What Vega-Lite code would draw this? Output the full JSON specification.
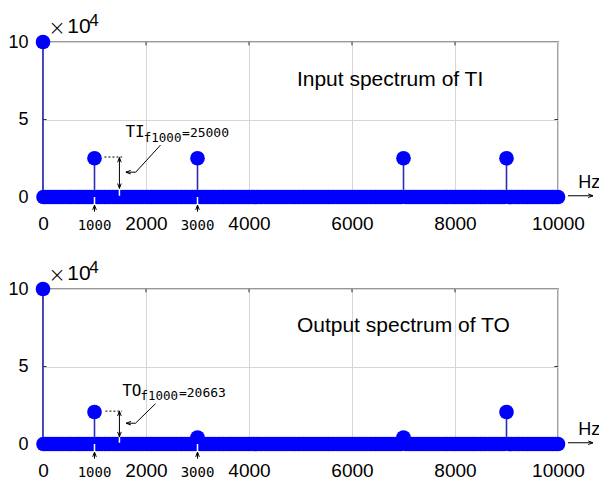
{
"$schema":"https://vega.github.io/schema/vega-lite/v6.json",
"padding":{"left":7,"top":11,"right":5,"bottom":5},
"background":"white",
"spacing":92,
"bounds":"flush",
"datasets":{"spec":[
{"f":0,"TI":100000,"TO":100000},{"f":10,"TI":0,"TO":0},{"f":50,"TI":0,"TO":0},
{"f":100,"TI":0,"TO":0},{"f":150,"TI":0,"TO":0},{"f":200,"TI":0,"TO":0},{"f":250,"TI":0,"TO":0},{"f":300,"TI":0,"TO":0},{"f":350,"TI":0,"TO":0},{"f":400,"TI":0,"TO":0},{"f":450,"TI":0,"TO":0},{"f":500,"TI":0,"TO":0},{"f":550,"TI":0,"TO":0},{"f":600,"TI":0,"TO":0},{"f":650,"TI":0,"TO":0},{"f":700,"TI":0,"TO":0},{"f":750,"TI":0,"TO":0},{"f":800,"TI":0,"TO":0},{"f":850,"TI":0,"TO":0},{"f":900,"TI":0,"TO":0},{"f":950,"TI":0,"TO":0},
{"f":1000,"TI":25000,"TO":20663},
{"f":1050,"TI":0,"TO":0},{"f":1100,"TI":0,"TO":0},{"f":1150,"TI":0,"TO":0},{"f":1200,"TI":0,"TO":0},{"f":1250,"TI":0,"TO":0},{"f":1300,"TI":0,"TO":0},{"f":1350,"TI":0,"TO":0},{"f":1400,"TI":0,"TO":0},{"f":1450,"TI":0,"TO":0},{"f":1500,"TI":0,"TO":0},{"f":1550,"TI":0,"TO":0},{"f":1600,"TI":0,"TO":0},{"f":1650,"TI":0,"TO":0},{"f":1700,"TI":0,"TO":0},{"f":1750,"TI":0,"TO":0},{"f":1800,"TI":0,"TO":0},{"f":1850,"TI":0,"TO":0},{"f":1900,"TI":0,"TO":0},{"f":1950,"TI":0,"TO":0},{"f":2000,"TI":0,"TO":0},
{"f":2050,"TI":0,"TO":0},{"f":2100,"TI":0,"TO":0},{"f":2150,"TI":0,"TO":0},{"f":2200,"TI":0,"TO":0},{"f":2250,"TI":0,"TO":0},{"f":2300,"TI":0,"TO":0},{"f":2350,"TI":0,"TO":0},{"f":2400,"TI":0,"TO":0},{"f":2450,"TI":0,"TO":0},{"f":2500,"TI":0,"TO":0},{"f":2550,"TI":0,"TO":0},{"f":2600,"TI":0,"TO":0},{"f":2650,"TI":0,"TO":0},{"f":2700,"TI":0,"TO":0},{"f":2750,"TI":0,"TO":0},{"f":2800,"TI":0,"TO":0},{"f":2850,"TI":0,"TO":0},{"f":2900,"TI":0,"TO":0},{"f":2950,"TI":0,"TO":0},
{"f":3000,"TI":25000,"TO":4200},
{"f":3050,"TI":0,"TO":0},{"f":3100,"TI":0,"TO":0},{"f":3150,"TI":0,"TO":0},{"f":3200,"TI":0,"TO":0},{"f":3250,"TI":0,"TO":0},{"f":3300,"TI":0,"TO":0},{"f":3350,"TI":0,"TO":0},{"f":3400,"TI":0,"TO":0},{"f":3450,"TI":0,"TO":0},{"f":3500,"TI":0,"TO":0},{"f":3550,"TI":0,"TO":0},{"f":3600,"TI":0,"TO":0},{"f":3650,"TI":0,"TO":0},{"f":3700,"TI":0,"TO":0},{"f":3750,"TI":0,"TO":0},{"f":3800,"TI":0,"TO":0},{"f":3850,"TI":0,"TO":0},{"f":3900,"TI":0,"TO":0},{"f":3950,"TI":0,"TO":0},{"f":4000,"TI":0,"TO":0},
{"f":4050,"TI":0,"TO":0},{"f":4100,"TI":0,"TO":0},{"f":4150,"TI":0,"TO":0},{"f":4200,"TI":0,"TO":0},{"f":4250,"TI":0,"TO":0},{"f":4300,"TI":0,"TO":0},{"f":4350,"TI":0,"TO":0},{"f":4400,"TI":0,"TO":0},{"f":4450,"TI":0,"TO":0},{"f":4500,"TI":0,"TO":0},{"f":4550,"TI":0,"TO":0},{"f":4600,"TI":0,"TO":0},{"f":4650,"TI":0,"TO":0},{"f":4700,"TI":0,"TO":0},{"f":4750,"TI":0,"TO":0},{"f":4800,"TI":0,"TO":0},{"f":4850,"TI":0,"TO":0},{"f":4900,"TI":0,"TO":0},{"f":4950,"TI":0,"TO":0},{"f":5000,"TI":0,"TO":0},
{"f":5050,"TI":0,"TO":0},{"f":5100,"TI":0,"TO":0},{"f":5150,"TI":0,"TO":0},{"f":5200,"TI":0,"TO":0},{"f":5250,"TI":0,"TO":0},{"f":5300,"TI":0,"TO":0},{"f":5350,"TI":0,"TO":0},{"f":5400,"TI":0,"TO":0},{"f":5450,"TI":0,"TO":0},{"f":5500,"TI":0,"TO":0},{"f":5550,"TI":0,"TO":0},{"f":5600,"TI":0,"TO":0},{"f":5650,"TI":0,"TO":0},{"f":5700,"TI":0,"TO":0},{"f":5750,"TI":0,"TO":0},{"f":5800,"TI":0,"TO":0},{"f":5850,"TI":0,"TO":0},{"f":5900,"TI":0,"TO":0},{"f":5950,"TI":0,"TO":0},{"f":6000,"TI":0,"TO":0},
{"f":6050,"TI":0,"TO":0},{"f":6100,"TI":0,"TO":0},{"f":6150,"TI":0,"TO":0},{"f":6200,"TI":0,"TO":0},{"f":6250,"TI":0,"TO":0},{"f":6300,"TI":0,"TO":0},{"f":6350,"TI":0,"TO":0},{"f":6400,"TI":0,"TO":0},{"f":6450,"TI":0,"TO":0},{"f":6500,"TI":0,"TO":0},{"f":6550,"TI":0,"TO":0},{"f":6600,"TI":0,"TO":0},{"f":6650,"TI":0,"TO":0},{"f":6700,"TI":0,"TO":0},{"f":6750,"TI":0,"TO":0},{"f":6800,"TI":0,"TO":0},{"f":6850,"TI":0,"TO":0},{"f":6900,"TI":0,"TO":0},{"f":6950,"TI":0,"TO":0},
{"f":7000,"TI":25000,"TO":4200},
{"f":7050,"TI":0,"TO":0},{"f":7100,"TI":0,"TO":0},{"f":7150,"TI":0,"TO":0},{"f":7200,"TI":0,"TO":0},{"f":7250,"TI":0,"TO":0},{"f":7300,"TI":0,"TO":0},{"f":7350,"TI":0,"TO":0},{"f":7400,"TI":0,"TO":0},{"f":7450,"TI":0,"TO":0},{"f":7500,"TI":0,"TO":0},{"f":7550,"TI":0,"TO":0},{"f":7600,"TI":0,"TO":0},{"f":7650,"TI":0,"TO":0},{"f":7700,"TI":0,"TO":0},{"f":7750,"TI":0,"TO":0},{"f":7800,"TI":0,"TO":0},{"f":7850,"TI":0,"TO":0},{"f":7900,"TI":0,"TO":0},{"f":7950,"TI":0,"TO":0},{"f":8000,"TI":0,"TO":0},
{"f":8050,"TI":0,"TO":0},{"f":8100,"TI":0,"TO":0},{"f":8150,"TI":0,"TO":0},{"f":8200,"TI":0,"TO":0},{"f":8250,"TI":0,"TO":0},{"f":8300,"TI":0,"TO":0},{"f":8350,"TI":0,"TO":0},{"f":8400,"TI":0,"TO":0},{"f":8450,"TI":0,"TO":0},{"f":8500,"TI":0,"TO":0},{"f":8550,"TI":0,"TO":0},{"f":8600,"TI":0,"TO":0},{"f":8650,"TI":0,"TO":0},{"f":8700,"TI":0,"TO":0},{"f":8750,"TI":0,"TO":0},{"f":8800,"TI":0,"TO":0},{"f":8850,"TI":0,"TO":0},{"f":8900,"TI":0,"TO":0},{"f":8950,"TI":0,"TO":0},
{"f":9000,"TI":25000,"TO":20663},
{"f":9050,"TI":0,"TO":0},{"f":9100,"TI":0,"TO":0},{"f":9150,"TI":0,"TO":0},{"f":9200,"TI":0,"TO":0},{"f":9250,"TI":0,"TO":0},{"f":9300,"TI":0,"TO":0},{"f":9350,"TI":0,"TO":0},{"f":9400,"TI":0,"TO":0},{"f":9450,"TI":0,"TO":0},{"f":9500,"TI":0,"TO":0},{"f":9550,"TI":0,"TO":0},{"f":9600,"TI":0,"TO":0},{"f":9650,"TI":0,"TO":0},{"f":9700,"TI":0,"TO":0},{"f":9750,"TI":0,"TO":0},{"f":9800,"TI":0,"TO":0},{"f":9850,"TI":0,"TO":0},{"f":9900,"TI":0,"TO":0},{"f":9950,"TI":0,"TO":0},{"f":10000,"TI":0,"TO":0}
]},
"vconcat":[
{"width":515,"height":155,
"layer":[
{"data":{"name":"spec"},"mark":{"type":"rule","color":"#2d2db4","strokeWidth":1.6},
 "encoding":{
  "x":{"field":"f","type":"quantitative","scale":{"domain":[0,10000],"nice":false,"zero":false},
       "axis":{"values":[0,2000,4000,6000,8000,10000],"format":"d","labelFontSize":19,"labelPadding":17,"labelFlush":false,"labelOverlap":false,"title":null}},
  "y":{"field":"TI","type":"quantitative","scale":{"domain":[0,100000],"nice":false},
       "axis":{"values":[0,50000,100000],"labelExpr":"datum.value/10000","labelFontSize":18,"labelPadding":15,"title":null}},
  "y2":{"datum":0}}},
{"data":{"values":[{"f":2000},{"f":4000},{"f":6000},{"f":8000}]},"mark":{"type":"rule","color":"#333333","strokeWidth":1},
 "encoding":{"x":{"field":"f","type":"quantitative"},"y":{"datum":100000},"y2":{"datum":97800}}},
{"data":{"values":[{}]},"mark":{"type":"rule","color":"#333333","strokeWidth":1},
 "encoding":{"x":{"datum":10000},"x2":{"datum":9930},"y":{"datum":50000}}},
{"data":{"values":[{}]},"mark":{"type":"rule","color":"#333333","strokeWidth":1},
 "encoding":{"x":{"datum":0},"x2":{"datum":70},"y":{"datum":50000}}},
{"data":{"name":"spec"},"mark":{"type":"point","shape":"circle","filled":true,"size":215,"color":"#0000ff","opacity":1},
 "encoding":{"x":{"field":"f","type":"quantitative"},"y":{"field":"TI","type":"quantitative"}}},
{"data":{"values":[{}]},"mark":{"type":"text","text":"Input spectrum of TI","font":"Liberation Sans","fontSize":21,"align":"left","baseline":"alphabetic","color":"black"},
 "encoding":{"x":{"datum":4930},"y":{"datum":71600}}},
{"data":{"values":[{}]},"mark":{"type":"text","text":"×","font":"DejaVu Sans","fontWeight":200,"fontSize":21,"align":"left","baseline":"alphabetic","color":"black"},
 "encoding":{"x":{"datum":100},"y":{"datum":104300}}},
{"data":{"values":[{}]},"mark":{"type":"text","text":"10","font":"Liberation Sans","fontSize":21,"align":"left","baseline":"alphabetic","color":"black"},
 "encoding":{"x":{"datum":470},"y":{"datum":105600}}},
{"data":{"values":[{}]},"mark":{"type":"text","text":"4","font":"Liberation Sans","fontSize":17,"align":"left","baseline":"alphabetic","color":"black"},
 "encoding":{"x":{"datum":900},"y":{"datum":110500}}},
{"data":{"values":[{}]},"mark":{"type":"text","text":"TI","font":"DejaVu Sans Mono","fontSize":16,"align":"left","baseline":"alphabetic","color":"black"},
 "encoding":{"x":{"datum":1601},"y":{"datum":38900}}},
{"data":{"values":[{}]},"mark":{"type":"text","text":"f1000","font":"DejaVu Sans Mono","fontSize":12.5,"align":"left","baseline":"alphabetic","color":"black"},
 "encoding":{"x":{"datum":1957},"y":{"datum":35700}}},
{"data":{"values":[{}]},"mark":{"type":"text","text":"=25000","font":"DejaVu Sans Mono","fontSize":13,"align":"left","baseline":"alphabetic","color":"black"},
 "encoding":{"x":{"datum":2700},"y":{"datum":38900}}},
{"data":{"values":[{}]},"mark":{"type":"rule","color":"black","strokeWidth":1,"strokeDash":[2,2]},
 "encoding":{"x":{"datum":1193},"x2":{"datum":1537},"y":{"datum":25800}}},
{"data":{"values":[{}]},"mark":{"type":"rule","color":"black","strokeWidth":1},
 "encoding":{"x":{"datum":1484},"y":{"datum":25500},"y2":{"datum":5600}}},
{"data":{"values":[{}]},"mark":{"type":"point","shape":"M-0.6,1.6L0,0L0.6,1.6","filled":false,"size":36,"color":"black","strokeWidth":1,"opacity":1},
 "encoding":{"x":{"datum":1484},"y":{"datum":25500}}},
{"data":{"values":[{}]},"mark":{"type":"point","shape":"M-0.6,-1.6L0,0L0.6,-1.6","filled":false,"size":36,"color":"black","strokeWidth":1,"opacity":1},
 "encoding":{"x":{"datum":1484},"y":{"datum":5600}}},
{"data":{"values":[{}]},"mark":{"type":"rule","color":"black","strokeWidth":1},
 "encoding":{"x":{"datum":2282},"x2":{"datum":1800},"y":{"datum":33500},"y2":{"datum":16000}}},
{"data":{"values":[{}]},"mark":{"type":"rule","color":"black","strokeWidth":1},
 "encoding":{"x":{"datum":1800},"x2":{"datum":1610},"y":{"datum":16000},"y2":{"datum":16000}}},
{"data":{"values":[{}]},"mark":{"type":"point","shape":"M1.6,-0.6L0,0L1.6,0.6","filled":false,"size":36,"color":"black","strokeWidth":1,"opacity":1},
 "encoding":{"x":{"datum":1610},"y":{"datum":16000}}},
{"data":{"values":[{"f":1000},{"f":3000}]},"mark":{"type":"rule","color":"black","strokeWidth":1},
 "encoding":{"x":{"field":"f","type":"quantitative"},"y":{"datum":-5200},"y2":{"datum":-9500}}},
{"data":{"values":[{"f":1000},{"f":3000}]},"mark":{"type":"point","shape":"M-0.6,1.6L0,0L0.6,1.6","filled":false,"size":36,"color":"black","strokeWidth":1,"opacity":1},
 "encoding":{"x":{"field":"f","type":"quantitative"},"y":{"datum":-5200}}},
{"data":{"values":[{"f":1000},{"f":3000}]},"mark":{"type":"text","font":"DejaVu Sans Mono","fontSize":14,"align":"center","baseline":"alphabetic","color":"black"},
 "encoding":{"x":{"field":"f","type":"quantitative"},"y":{"datum":-21300},"text":{"field":"f"}}},
{"data":{"values":[{"f":1000},{"f":3000}]},"mark":{"type":"rule","color":"white","strokeWidth":1.5},
 "encoding":{"x":{"field":"f","type":"quantitative"},"y":{"datum":0},"y2":{"datum":-4800}}},
{"data":{"values":[{}]},"mark":{"type":"rule","color":"white","strokeWidth":1.5},
 "encoding":{"x":{"datum":1484},"y":{"datum":5000},"y2":{"datum":800}}},
{"data":{"values":[{}]},"mark":{"type":"rule","color":"black","strokeWidth":1},
 "encoding":{"x":{"datum":10193},"x2":{"datum":10680},"y":{"datum":800}}},
{"data":{"values":[{}]},"mark":{"type":"point","shape":"M-1.6,-0.6L0,0L-1.6,0.6","filled":false,"size":36,"color":"black","strokeWidth":1,"opacity":1},
 "encoding":{"x":{"datum":10680},"y":{"datum":800}}},
{"data":{"values":[{}]},"mark":{"type":"text","text":"Hz","font":"Liberation Sans","fontSize":18,"align":"left","baseline":"alphabetic","color":"black"},
 "encoding":{"x":{"datum":10391},"y":{"datum":5600}}}
]},
{"width":515,"height":155,
"layer":[
{"data":{"name":"spec"},"mark":{"type":"rule","color":"#2d2db4","strokeWidth":1.6},
 "encoding":{
  "x":{"field":"f","type":"quantitative","scale":{"domain":[0,10000],"nice":false,"zero":false},
       "axis":{"values":[0,2000,4000,6000,8000,10000],"format":"d","labelFontSize":19,"labelPadding":17,"labelFlush":false,"labelOverlap":false,"title":null}},
  "y":{"field":"TO","type":"quantitative","scale":{"domain":[0,100000],"nice":false},
       "axis":{"values":[0,50000,100000],"labelExpr":"datum.value/10000","labelFontSize":18,"labelPadding":15,"title":null}},
  "y2":{"datum":0}}},
{"data":{"values":[{"f":2000},{"f":4000},{"f":6000},{"f":8000}]},"mark":{"type":"rule","color":"#333333","strokeWidth":1},
 "encoding":{"x":{"field":"f","type":"quantitative"},"y":{"datum":100000},"y2":{"datum":97800}}},
{"data":{"values":[{}]},"mark":{"type":"rule","color":"#333333","strokeWidth":1},
 "encoding":{"x":{"datum":10000},"x2":{"datum":9930},"y":{"datum":50000}}},
{"data":{"values":[{}]},"mark":{"type":"rule","color":"#333333","strokeWidth":1},
 "encoding":{"x":{"datum":0},"x2":{"datum":70},"y":{"datum":50000}}},
{"data":{"name":"spec"},"mark":{"type":"point","shape":"circle","filled":true,"size":215,"color":"#0000ff","opacity":1},
 "encoding":{"x":{"field":"f","type":"quantitative"},"y":{"field":"TO","type":"quantitative"}}},
{"data":{"values":[{}]},"mark":{"type":"text","text":"Output spectrum of TO","font":"Liberation Sans","fontSize":21,"align":"left","baseline":"alphabetic","color":"black"},
 "encoding":{"x":{"datum":4930},"y":{"datum":72500}}},
{"data":{"values":[{}]},"mark":{"type":"text","text":"×","font":"DejaVu Sans","fontWeight":200,"fontSize":21,"align":"left","baseline":"alphabetic","color":"black"},
 "encoding":{"x":{"datum":100},"y":{"datum":104300}}},
{"data":{"values":[{}]},"mark":{"type":"text","text":"10","font":"Liberation Sans","fontSize":21,"align":"left","baseline":"alphabetic","color":"black"},
 "encoding":{"x":{"datum":470},"y":{"datum":105600}}},
{"data":{"values":[{}]},"mark":{"type":"text","text":"4","font":"Liberation Sans","fontSize":17,"align":"left","baseline":"alphabetic","color":"black"},
 "encoding":{"x":{"datum":900},"y":{"datum":110500}}},
{"data":{"values":[{}]},"mark":{"type":"text","text":"TO","font":"DejaVu Sans Mono","fontSize":16,"align":"left","baseline":"alphabetic","color":"black"},
 "encoding":{"x":{"datum":1537},"y":{"datum":30700}}},
{"data":{"values":[{}]},"mark":{"type":"text","text":"f1000","font":"DejaVu Sans Mono","fontSize":12.5,"align":"left","baseline":"alphabetic","color":"black"},
 "encoding":{"x":{"datum":1893},"y":{"datum":28100}}},
{"data":{"values":[{}]},"mark":{"type":"text","text":"=20663","font":"DejaVu Sans Mono","fontSize":13,"align":"left","baseline":"alphabetic","color":"black"},
 "encoding":{"x":{"datum":2640},"y":{"datum":30400}}},
{"data":{"values":[{}]},"mark":{"type":"rule","color":"black","strokeWidth":1,"strokeDash":[2,2]},
 "encoding":{"x":{"datum":1212},"x2":{"datum":1537},"y":{"datum":21200}}},
{"data":{"values":[{}]},"mark":{"type":"rule","color":"black","strokeWidth":1},
 "encoding":{"x":{"datum":1484},"y":{"datum":21200},"y2":{"datum":4700}}},
{"data":{"values":[{}]},"mark":{"type":"point","shape":"M-0.6,1.6L0,0L0.6,1.6","filled":false,"size":36,"color":"black","strokeWidth":1,"opacity":1},
 "encoding":{"x":{"datum":1484},"y":{"datum":21200}}},
{"data":{"values":[{}]},"mark":{"type":"point","shape":"M-0.6,-1.6L0,0L0.6,-1.6","filled":false,"size":36,"color":"black","strokeWidth":1,"opacity":1},
 "encoding":{"x":{"datum":1484},"y":{"datum":4700}}},
{"data":{"values":[{}]},"mark":{"type":"rule","color":"black","strokeWidth":1},
 "encoding":{"x":{"datum":2185},"x2":{"datum":1796},"y":{"datum":26000},"y2":{"datum":13400}}},
{"data":{"values":[{}]},"mark":{"type":"rule","color":"black","strokeWidth":1},
 "encoding":{"x":{"datum":1796},"x2":{"datum":1615},"y":{"datum":13400},"y2":{"datum":13400}}},
{"data":{"values":[{}]},"mark":{"type":"point","shape":"M1.6,-0.6L0,0L1.6,0.6","filled":false,"size":36,"color":"black","strokeWidth":1,"opacity":1},
 "encoding":{"x":{"datum":1615},"y":{"datum":13400}}},
{"data":{"values":[{"f":1000},{"f":3000}]},"mark":{"type":"rule","color":"black","strokeWidth":1},
 "encoding":{"x":{"field":"f","type":"quantitative"},"y":{"datum":-5200},"y2":{"datum":-9500}}},
{"data":{"values":[{"f":1000},{"f":3000}]},"mark":{"type":"point","shape":"M-0.6,1.6L0,0L0.6,1.6","filled":false,"size":36,"color":"black","strokeWidth":1,"opacity":1},
 "encoding":{"x":{"field":"f","type":"quantitative"},"y":{"datum":-5200}}},
{"data":{"values":[{"f":1000},{"f":3000}]},"mark":{"type":"text","font":"DejaVu Sans Mono","fontSize":14,"align":"center","baseline":"alphabetic","color":"black"},
 "encoding":{"x":{"field":"f","type":"quantitative"},"y":{"datum":-21300},"text":{"field":"f"}}},
{"data":{"values":[{"f":1000},{"f":3000}]},"mark":{"type":"rule","color":"white","strokeWidth":1.5},
 "encoding":{"x":{"field":"f","type":"quantitative"},"y":{"datum":0},"y2":{"datum":-4800}}},
{"data":{"values":[{}]},"mark":{"type":"rule","color":"white","strokeWidth":1.5},
 "encoding":{"x":{"datum":1484},"y":{"datum":4400},"y2":{"datum":800}}},
{"data":{"values":[{}]},"mark":{"type":"rule","color":"black","strokeWidth":1},
 "encoding":{"x":{"datum":10193},"x2":{"datum":10680},"y":{"datum":800}}},
{"data":{"values":[{}]},"mark":{"type":"point","shape":"M-1.6,-0.6L0,0L-1.6,0.6","filled":false,"size":36,"color":"black","strokeWidth":1,"opacity":1},
 "encoding":{"x":{"datum":10680},"y":{"datum":800}}},
{"data":{"values":[{}]},"mark":{"type":"text","text":"Hz","font":"Liberation Sans","fontSize":18,"align":"left","baseline":"alphabetic","color":"black"},
 "encoding":{"x":{"datum":10391},"y":{"datum":5600}}}
]}
],
"config":{
 "view":{"stroke":"#333333","strokeWidth":1.3},
 "axis":{"grid":true,"gridColor":"#d6d6d6","gridWidth":1,"domain":false,"ticks":false,"labelColor":"black","labelFont":"Liberation Sans"}
}
}
